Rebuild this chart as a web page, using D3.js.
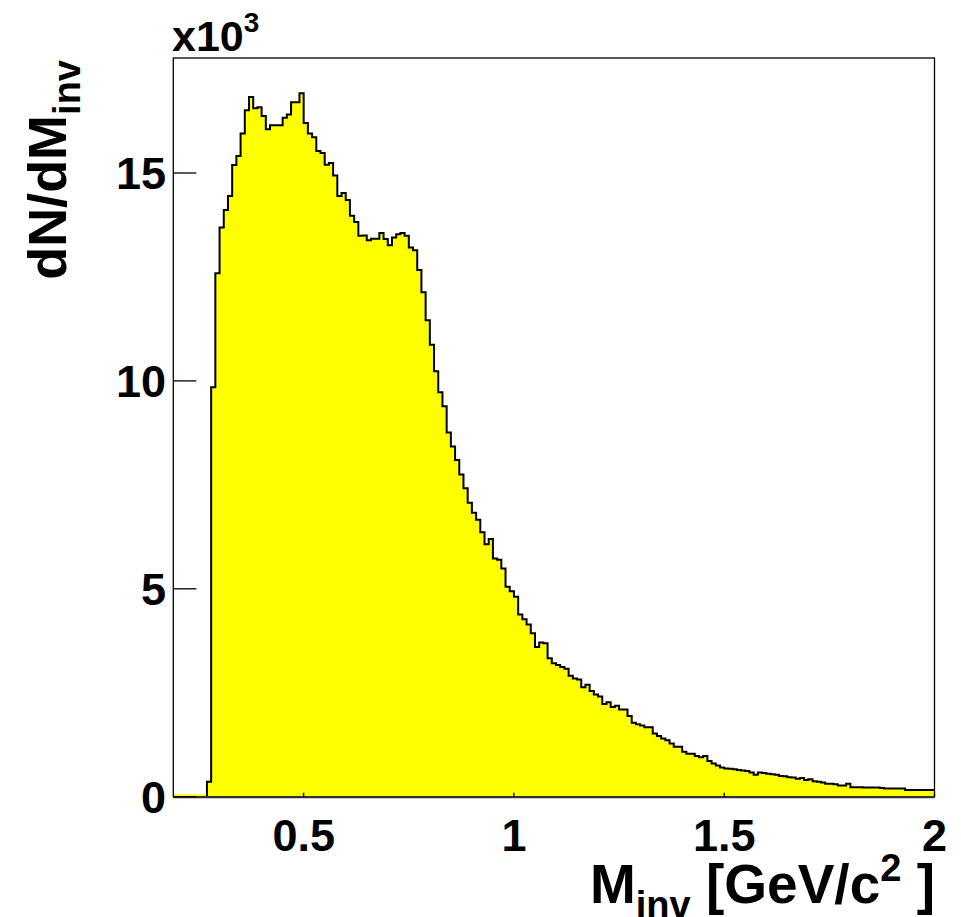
<!DOCTYPE html>
<html>
<head>
<meta charset="utf-8">
<script src="https://cdn.jsdelivr.net/npm/d3@7/dist/d3.min.js"></script>
<style>
  html, body { margin: 0; padding: 0; background: #ffffff; }
  svg text { font-family: "Liberation Sans", Arial, Helvetica, sans-serif; font-weight: bold; fill: #000; }
</style>
</head>
<body>
<svg id="chart" width="961" height="917"></svg>
<script>
// ---- Data (values in units of 10^3 counts per bin, bin width 0.01 GeV/c^2) ----
const binWidth = 0.01;
const firstBinLow = 0.19;
const counts = [
  0, 0, 0, 0, 0, 0, 0, 0, 0.36, 9.85,
  12.59, 13.69, 14.11, 14.45, 15.19, 15.41, 15.95, 16.51, 16.83, 16.56,
  16.58, 16.37, 16.05, 16.15, 16.15, 16.15, 16.33, 16.41, 16.70, 16.70,
  16.92, 16.20, 15.95, 15.86, 15.53, 15.48, 15.20, 15.24, 14.94, 14.45,
  14.52, 14.35, 13.97, 13.82, 13.49, 13.50, 13.38, 13.42, 13.42, 13.56,
  13.41, 13.26, 13.45, 13.53, 13.56, 13.49, 13.21, 13.14, 12.67, 12.13,
  11.46, 10.87, 10.23, 9.73, 9.39, 8.76, 8.42, 8.10, 7.75, 7.42,
  7.07, 6.83, 6.66, 6.36, 6.07, 6.20, 5.73, 5.70, 5.49, 5.05,
  4.94, 4.81, 4.38, 4.27, 4.14, 3.93, 3.60, 3.71, 3.69, 3.33,
  3.21, 3.17, 3.12, 3.08, 2.91, 2.84, 2.82, 2.63, 2.69, 2.54,
  2.46, 2.41, 2.23, 2.27, 2.16, 2.19, 2.10, 2.10, 1.94, 1.78,
  1.74, 1.71, 1.67, 1.67, 1.52, 1.46, 1.40, 1.36, 1.28, 1.20,
  1.20, 1.08, 1.03, 1.03, 0.98, 0.95, 0.98, 0.86, 0.80, 0.75,
  0.70, 0.68, 0.67, 0.66, 0.64, 0.63, 0.62, 0.58, 0.53, 0.58,
  0.57, 0.55, 0.54, 0.53, 0.50, 0.49, 0.47, 0.46, 0.43, 0.45,
  0.40, 0.42, 0.37, 0.36, 0.34, 0.31, 0.31, 0.30, 0.27, 0.27,
  0.31, 0.23, 0.23, 0.23, 0.22, 0.22, 0.22, 0.22, 0.21, 0.20,
  0.20, 0.20, 0.20, 0.20, 0.16, 0.16, 0.16, 0.16, 0.16, 0.16,
  0.16
];
const binLowEdges = counts.map((_, i) => +(firstBinLow + i * binWidth).toFixed(2));
const xDomain = [0.19, 2.0];
const yDomain = [0, 17.766];
const xTicks = [0.5, 1, 1.5, 2];
const xTickLabels = ["0.5", "1", "1.5", "2"];
const yTicks = [0, 5, 10, 15];
const yTickLabels = ["0", "5", "10", "15"];

// ---- Layout ----
const frame = { left: 173.3, right: 934.5, top: 58, bottom: 796.7 };
const svg = d3.select("#chart");

const x = d3.scaleLinear().domain(xDomain).range([frame.left, frame.right]);
const y = d3.scaleLinear().domain(yDomain).range([frame.bottom, frame.top]);

// histogram points (step after), closing at upper edge of last bin
const pts = counts.map((v, i) => ({ x: binLowEdges[i], v }));
pts.push({ x: +(binLowEdges[binLowEdges.length - 1] + binWidth).toFixed(2), v: counts[counts.length - 1] });

// fill
svg.append("path")
  .datum(pts)
  .attr("fill", "#ffff00")
  .attr("stroke", "none")
  .attr("d", d3.area().curve(d3.curveStepAfter).x(d => x(d.x)).y0(y(0)).y1(d => y(d.v)));

// yellow trace along zero bins
const firstNZ = counts.findIndex(v => v > 0);
svg.append("line")
  .attr("x1", x(binLowEdges[0])).attr("x2", x(binLowEdges[firstNZ]))
  .attr("y1", y(0) - 1.5).attr("y2", y(0) - 1.5)
  .attr("stroke", "#ffff00").attr("stroke-width", 2);

// outline
const outlinePts = [{ x: binLowEdges[firstNZ], v: 0 }].concat(pts.slice(firstNZ));
svg.append("path")
  .datum(outlinePts)
  .attr("fill", "none")
  .attr("stroke", "#000")
  .attr("stroke-width", 2)
  .attr("d", d3.line().curve(d3.curveStepAfter).x(d => x(d.x)).y(d => y(d.v)));

// frame
svg.append("rect")
  .attr("x", frame.left).attr("y", frame.top)
  .attr("width", frame.right - frame.left).attr("height", frame.bottom - frame.top)
  .attr("fill", "none").attr("stroke", "#000").attr("stroke-width", 1.3);

// x axis line (thicker)
svg.append("line")
  .attr("x1", frame.left).attr("x2", frame.right)
  .attr("y1", frame.bottom + 0.5).attr("y2", frame.bottom + 0.5)
  .attr("stroke", "#333").attr("stroke-width", 2.2);

// y ticks
const yAxisG = svg.append("g");
yAxisG.selectAll("line").data(yTicks).join("line")
  .attr("x1", frame.left).attr("x2", frame.left + 23)
  .attr("y1", d => y(d)).attr("y2", d => y(d))
  .attr("stroke", "#000").attr("stroke-width", 1.3);
yAxisG.selectAll("text").data(yTicks).join("text")
  .attr("x", 166).attr("y", d => y(d) + 16)
  .attr("text-anchor", "end")
  .attr("font-size", 45)
  .text((d, i) => yTickLabels[i]);

// x ticks
const xAxisG = svg.append("g");
xAxisG.selectAll("line").data(xTicks).join("line")
  .attr("x1", d => x(d)).attr("x2", d => x(d))
  .attr("y1", frame.bottom).attr("y2", frame.bottom - 4)
  .attr("stroke", "#000").attr("stroke-width", 1.3);
xAxisG.selectAll("text").data(xTicks).join("text")
  .attr("x", d => x(d)).attr("y", 851)
  .attr("text-anchor", "middle")
  .attr("font-size", 45)
  .text((d, i) => xTickLabels[i]);

// exponent label
const expT = svg.append("text").attr("x", 172).attr("y", 51).attr("font-size", 43);
expT.append("tspan").text("x10");
expT.append("tspan").attr("font-size", 28).attr("dy", -19).text("3");

// x title
const xt = svg.append("text").attr("x", 935).attr("y", 903).attr("text-anchor", "end").attr("font-size", 55);
xt.append("tspan").text("M");
xt.append("tspan").attr("font-size", 38).attr("dy", 15).text("inv");
xt.append("tspan").attr("dy", -15).text(" [GeV/c");
xt.append("tspan").attr("font-size", 38).attr("dy", -22).text("2");
xt.append("tspan").attr("dy", 22).text(" ]");

// y title
const yt = svg.append("text")
  .attr("transform", "translate(66,60) rotate(-90)")
  .attr("text-anchor", "end").attr("font-size", 54);
yt.append("tspan").text("dN/dM");
yt.append("tspan").attr("font-size", 38).attr("dy", 14).text("inv");
</script>
</body>
</html>
